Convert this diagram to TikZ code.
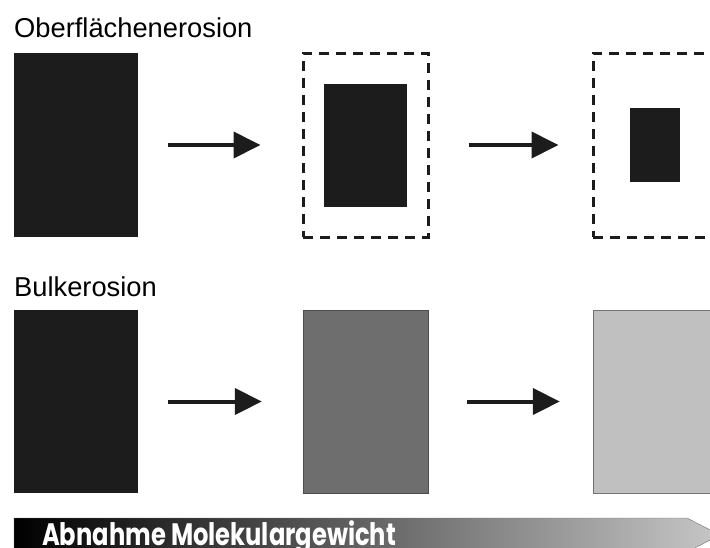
\documentclass[tikz,border=0pt]{standalone}
\usepackage{fontspec}
\setmainfont{Liberation Sans}
\newfontfamily\barfont{Poppins}
\usetikzlibrary{arrows.meta}

\definecolor{ink}{HTML}{1C1C1C}
\definecolor{midgray}{HTML}{6E6E6E}
\definecolor{lightgray}{HTML}{C0C0C0}

\begin{document}
\begin{tikzpicture}[x=1pt,y=-1pt,
    block/.style={rectangle,inner sep=0pt,fill=ink,
        minimum width=124,minimum height=184},
    shell/.style={rectangle,inner sep=0pt,draw=ink,line width=3pt,
        dash pattern=on 10pt off 7pt,minimum width=125,minimum height=184},
    flow/.style={line width=4pt,draw=ink,
        -{Triangle[length=27pt,width=26pt,fill=ink]}},
    heading/.style={anchor=base west,inner sep=0pt,
        font=\fontsize{27.3}{30}\selectfont}]
  \useasboundingbox (0,0) rectangle (710,547);
  \clip (0,0) rectangle (710,547);

  % surface erosion: the solid shrinks inside its original outline
  \node[heading] (tsurf) at (14,37) {Oberflächenerosion};
  \node[block] (s1) at (76,145) {};
  \node[shell] (s2) at (365.5,145) {};
  \node[block,minimum width=83,minimum height=123] (s2core) at (s2) {};
  \node[shell] (s3) at (655.5,145) {};
  \node[block,minimum width=50,minimum height=74] (s3core) at (655,145) {};
  \draw[flow,shorten <=30pt,shorten >=41pt] (s1.east) -- (s2.west);
  \draw[flow,shorten <=39pt,shorten >=33pt] (s2.east) -- (s3.west);

  % bulk erosion: same size, lower density
  \node[heading] (tbulk) at (14,296) {Bulkerosion};
  \node[block,minimum height=183] (b1) at (76,401.5) {};
  \node[block,fill=midgray,draw=black!70,minimum width=125,
        minimum height=183] (b2) at (365.5,401.5) {};
  \node[block,fill=lightgray,draw=black!55,minimum width=125,
        minimum height=183] (b3) at (655.5,401.5) {};
  \draw[flow,shorten <=30pt,shorten >=41pt] (b1.east) -- (b2.west);
  \draw[flow,shorten <=39pt,shorten >=33pt] (b2.east) -- (b3.west);

  % molecular weight bar
  \shade[left color=black,right color=black!22,draw=black!55,thin]
    (14,518) -- (687,518) -- (720,535) -- (687,552) -- (14,552) -- cycle;
  \node[anchor=base west,inner sep=0pt,text=white,xscale=0.78,
        font=\barfont\bfseries\fontsize{31}{34}\selectfont]
    (mw) at (42,545) {Abnahme Molekulargewicht};
\end{tikzpicture}
\end{document}
